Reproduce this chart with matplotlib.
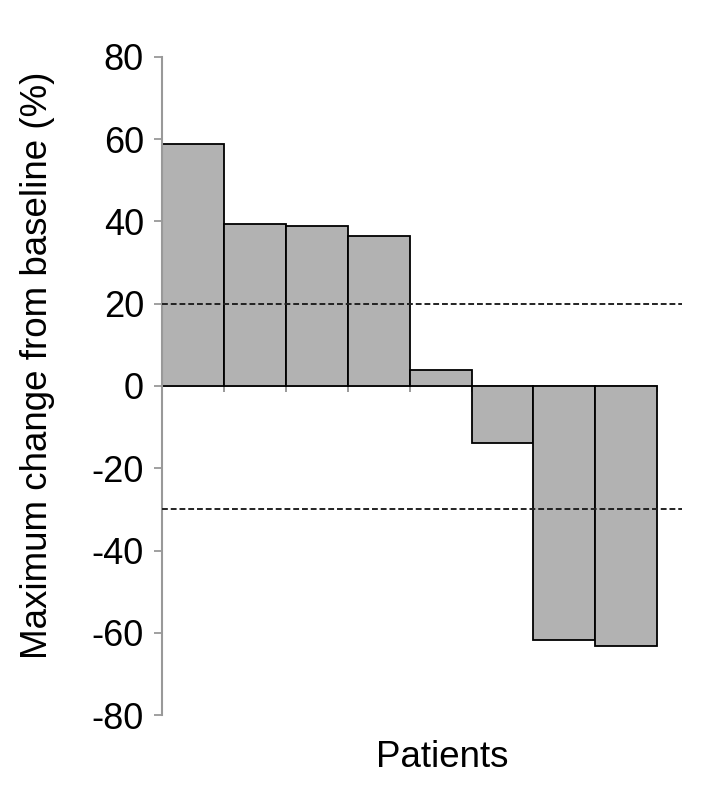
import matplotlib
matplotlib.use("Agg")
import matplotlib.pyplot as plt

# maximum change from baseline per patient (%)
patients = [1, 2, 3, 4, 5, 6, 7, 8]
change = [58.8, 39.3, 38.8, 36.4, 4.0, -13.9, -61.8, -63.2]
thresholds = [20, -30]
yticks = [-80, -60, -40, -20, 0, 20, 40, 60, 80]

plt.rcParams['font.family'] = ['Liberation Sans', 'DejaVu Sans']

fig = plt.figure(figsize=(7.09, 7.98), dpi=100)
ax = fig.add_axes([0.2285, 0.104, 0.7335, 0.8246])

ax.bar([p - 1 for p in patients], change, width=1, align='edge',
       color='#b2b2b2', edgecolor='black', linewidth=1.3, zorder=2)

# dashed reference lines
for t in thresholds:
    ax.axhline(t, color='#222222', linestyle=(0, (3, 1.5)), linewidth=1.4, zorder=3)

ax.set_xlim(0, 8.4)
ax.set_ylim(-80, 80)
ax.set_yticks(yticks)
ax.set_yticklabels([str(v) for v in yticks])

# zero line with ticks at patient boundaries
ax.spines['bottom'].set_position(('data', 0))
ax.spines['bottom'].set_bounds(0, 8)
ax.spines['bottom'].set_color('#888888')
ax.spines['bottom'].set_linewidth(1.3)
ax.spines['bottom'].set_zorder(1)
ax.spines['left'].set_color('#999999')
ax.spines['left'].set_linewidth(1.5)
ax.spines['top'].set_visible(False)
ax.spines['right'].set_visible(False)
ax.set_axisbelow(True)

ax.set_xticks(range(0, 9))
ax.set_xticklabels([])
ax.tick_params(axis='x', direction='out', length=4, width=1.2, color='#888888')
ax.tick_params(axis='y', direction='out', length=6, width=1.3, color='#999999',
               labelsize=26, pad=7)

ax.set_ylabel('Maximum change from baseline (%)', fontsize=26.5)
ax.yaxis.set_label_coords(-0.205, 0.532)
ax.text(0.538, -0.064, 'Patients', transform=ax.transAxes, ha='center',
        va='center', fontsize=26.5)

plt.savefig('out.png', dpi=100)
plt.close()
